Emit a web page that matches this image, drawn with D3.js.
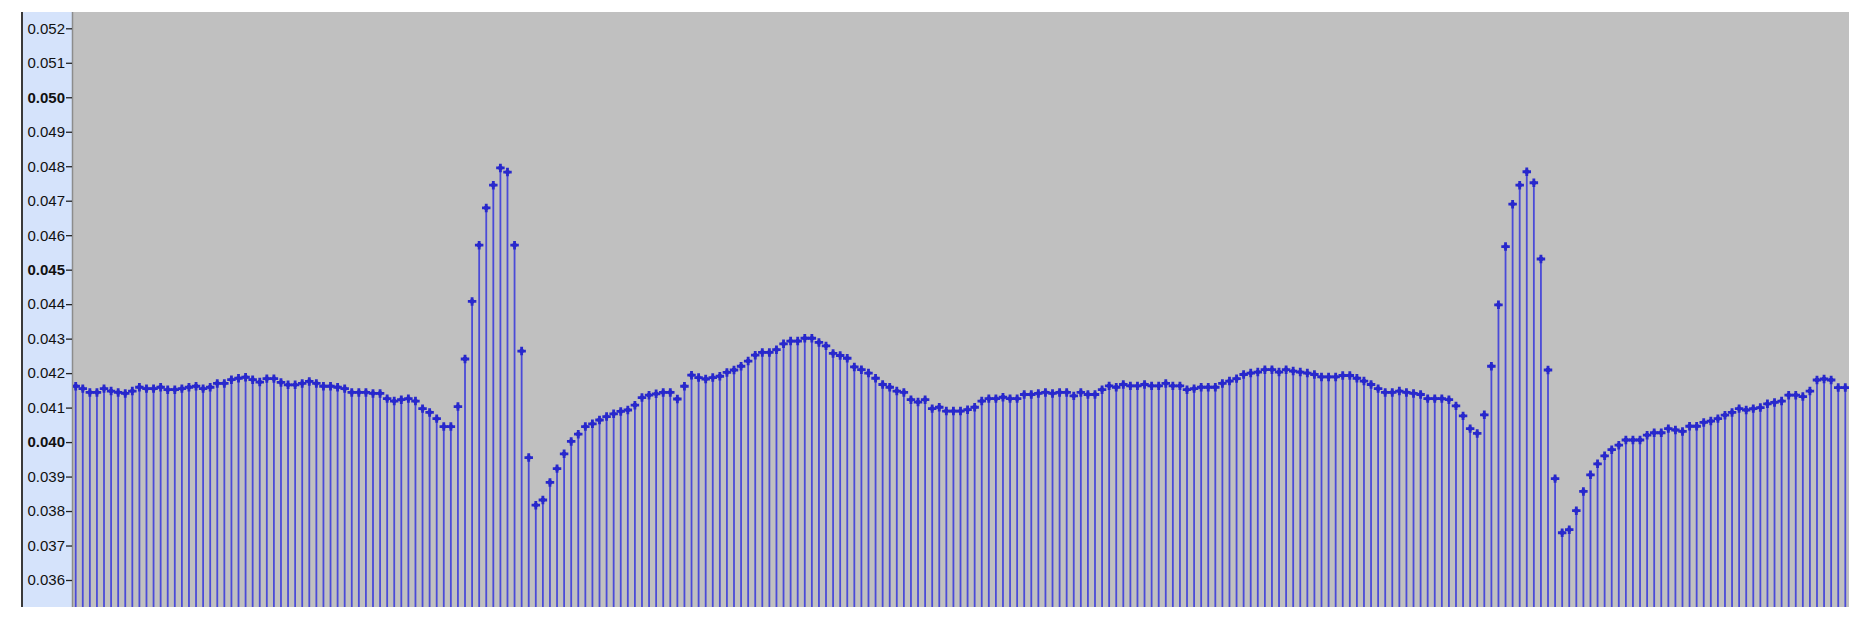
<!DOCTYPE html>
<html>
<head>
<meta charset="utf-8">
<script src="https://cdn.jsdelivr.net/npm/d3@7"></script>
<style>
  html, body { margin: 0; padding: 0; background: #fff; }
  svg { display: block; }
</style>
</head>
<body>
<script>
// sample values, one per stem, left to right
var values = [
  0.04162, 0.04155, 0.04144, 0.04144, 0.04155, 0.04148, 0.04144, 0.04141, 0.04148, 0.04159,
  0.04155, 0.04155, 0.04159, 0.04152, 0.04152, 0.04155, 0.04159, 0.04162, 0.04155, 0.04159,
  0.04170, 0.04170, 0.04181, 0.04185, 0.04188, 0.04181, 0.04174, 0.04184, 0.04184, 0.04173,
  0.04166, 0.04166, 0.04170, 0.04176, 0.04170, 0.04162, 0.04162, 0.04159, 0.04155, 0.04144,
  0.04144, 0.04144, 0.04141, 0.04141, 0.04126, 0.04119, 0.04123, 0.04126, 0.04119, 0.04097,
  0.04086, 0.04068, 0.04045, 0.04045, 0.04103, 0.04241, 0.04408, 0.04571, 0.04679, 0.04745,
  0.04795, 0.04783, 0.04571, 0.04264, 0.03955, 0.03817, 0.03832, 0.03883, 0.03923, 0.03966,
  0.04002, 0.04023, 0.04045, 0.04053, 0.04064, 0.04074, 0.04082, 0.04089, 0.04093, 0.04107,
  0.04129, 0.04136, 0.04140, 0.04144, 0.04144, 0.04125, 0.04162, 0.04194, 0.04187, 0.04183,
  0.04187, 0.04191, 0.04202, 0.04209, 0.04220, 0.04235, 0.04252, 0.04260, 0.04260, 0.04268,
  0.04285, 0.04293, 0.04293, 0.04301, 0.04301, 0.04289, 0.04279, 0.04257, 0.04251, 0.04243,
  0.04218, 0.04210, 0.04200, 0.04185, 0.04167, 0.04159, 0.04148, 0.04144, 0.04123, 0.04116,
  0.04123, 0.04097, 0.04101, 0.04090, 0.04090, 0.04090, 0.04094, 0.04101, 0.04119, 0.04126,
  0.04126, 0.04130, 0.04126, 0.04126, 0.04138, 0.04138, 0.04141, 0.04144, 0.04141, 0.04144,
  0.04144, 0.04134, 0.04144, 0.04138, 0.04138, 0.04152, 0.04163, 0.04159, 0.04167, 0.04163,
  0.04163, 0.04167, 0.04163, 0.04163, 0.04170, 0.04163, 0.04163, 0.04152, 0.04155, 0.04159,
  0.04159, 0.04159, 0.04170, 0.04177, 0.04184, 0.04196, 0.04200, 0.04203, 0.04210, 0.04210,
  0.04203, 0.04210, 0.04206, 0.04203, 0.04200, 0.04196, 0.04189, 0.04189, 0.04189, 0.04193,
  0.04193, 0.04185, 0.04177, 0.04167, 0.04155, 0.04144, 0.04144, 0.04148, 0.04144, 0.04141,
  0.04138, 0.04126, 0.04126, 0.04126, 0.04123, 0.04105, 0.04076, 0.04039, 0.04025, 0.04079,
  0.04220, 0.04398, 0.04567, 0.04690, 0.04745, 0.04784, 0.04752, 0.04531, 0.04209, 0.03894,
  0.03737, 0.03746, 0.03801, 0.03857, 0.03905, 0.03937, 0.03960, 0.03978, 0.03991, 0.04006,
  0.04006, 0.04006, 0.04020, 0.04027, 0.04027, 0.04039, 0.04035, 0.04031, 0.04046, 0.04046,
  0.04057, 0.04061, 0.04068, 0.04078, 0.04086, 0.04097, 0.04093, 0.04097, 0.04100, 0.04111,
  0.04115, 0.04119, 0.04136, 0.04136, 0.04132, 0.04148, 0.04180, 0.04183, 0.04180, 0.04158,
  0.04158
];

var tickValues = [0.036, 0.037, 0.038, 0.039, 0.040, 0.041, 0.042, 0.043, 0.044,
                  0.045, 0.046, 0.047, 0.048, 0.049, 0.050, 0.051, 0.052];
var boldTicks = [0.040, 0.045, 0.050];

var width = 1873, height = 619;
var plotLeft = 73, plotRight = 1849, plotTop = 12, plotBottom = 607;

var svg = d3.select("body").append("svg")
    .attr("width", width)
    .attr("height", height);

var x = d3.scaleLinear()
    .domain([0, values.length - 1])
    .range([75.7, 1845.3]);

var y = d3.scaleLinear()
    .domain([0.036, 0.052])
    .range([580, 28.3]);

// left label panel
svg.append("rect")
    .attr("x", 23).attr("y", plotTop)
    .attr("width", plotLeft - 23).attr("height", plotBottom - plotTop)
    .attr("fill", "#d5e3fb");
svg.append("line")
    .attr("x1", 22).attr("x2", 22)
    .attr("y1", plotTop).attr("y2", plotBottom)
    .attr("stroke", "#3a3a3a").attr("stroke-width", 2);

// plot background
svg.append("rect")
    .attr("x", plotLeft).attr("y", plotTop)
    .attr("width", plotRight - plotLeft).attr("height", plotBottom - plotTop)
    .attr("fill", "#c0c0c0");
svg.append("line")
    .attr("x1", plotLeft - 0.5).attr("x2", plotLeft - 0.5)
    .attr("y1", plotTop).attr("y2", plotBottom)
    .attr("stroke", "#8c8c8c").attr("stroke-width", 1.5);

svg.append("clipPath").attr("id", "plotclip")
  .append("rect")
    .attr("x", plotLeft).attr("y", plotTop)
    .attr("width", plotRight - plotLeft).attr("height", plotBottom - plotTop);

var g = svg.append("g").attr("clip-path", "url(#plotclip)");

// stems
g.selectAll("line.stem")
    .data(values)
  .enter().append("line")
    .attr("class", "stem")
    .attr("x1", function(d, i) { return x(i); })
    .attr("x2", function(d, i) { return x(i); })
    .attr("y1", plotBottom)
    .attr("y2", function(d) { return y(d); })
    .attr("stroke", "#4a4ad8")
    .attr("stroke-width", 1.8);

// markers
var cross = d3.symbol().type(d3.symbolCross).size(40);
g.selectAll("path.mark")
    .data(values)
  .enter().append("path")
    .attr("class", "mark")
    .attr("transform", function(d, i) { return "translate(" + x(i) + "," + y(d) + ")"; })
    .attr("d", cross)
    .attr("fill", "#2828cc");
g.selectAll("circle.mark")
    .data(values)
  .enter().append("circle")
    .attr("class", "mark")
    .attr("cx", function(d, i) { return x(i); })
    .attr("cy", function(d) { return y(d); })
    .attr("r", 2.4)
    .attr("fill", "#2828cc");

// y axis
var axis = d3.axisLeft(y)
    .tickValues(tickValues)
    .tickFormat(d3.format(".3f"))
    .tickSize(6)
    .tickPadding(1);

var ax = svg.append("g")
    .attr("transform", "translate(" + (plotLeft - 1) + ",0)")
    .call(axis);

ax.select(".domain").remove();
ax.selectAll(".tick line").attr("stroke", "#222").attr("stroke-width", 1.3);
ax.selectAll(".tick text")
    .attr("fill", "#111")
    .style("font-family", "Liberation Sans, Arial, sans-serif")
    .style("font-size", "15px")
    .style("font-weight", function(d) {
        return boldTicks.some(function(b) { return Math.abs(b - d) < 1e-9; }) ? "bold" : "normal";
    });
</script>
</body>
</html>
